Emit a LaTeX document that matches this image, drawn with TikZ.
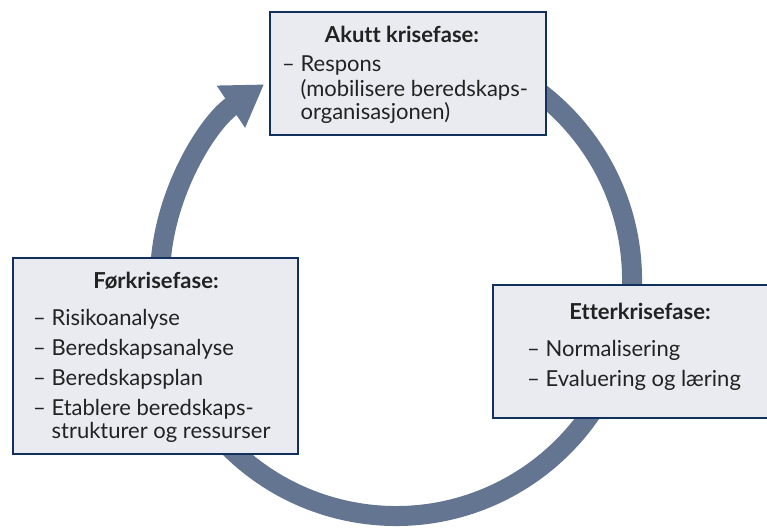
\documentclass[tikz,border=0pt]{standalone}
\usepackage{fontspec}
\setmainfont{Lato}[Ligatures=NoCommon]
\usetikzlibrary{arrows.meta, positioning, calc}
\definecolor{ring1}{RGB}{99,117,145}
\definecolor{boxfill1}{RGB}{233,235,240}
\definecolor{navy1}{RGB}{18,48,92}
\definecolor{text1}{RGB}{34,34,34}
\tikzset{
  phase/.style={draw=navy1, fill=boxfill1, line width=2pt, inner sep=0pt},
  phasetitle/.style={font=\fontsize{22}{23}\selectfont\bfseries, text=text1, inner sep=0pt, anchor=base},
  phaseitems/.style={font=\fontsize{22}{23}\selectfont, text=text1, align=left, inner sep=0pt, anchor=north west},
  cyclearrow/.style={draw=ring1, line width=20pt, -{Triangle[length=40pt, width=48pt]}},
}
\begin{document}
\begin{tikzpicture}[x=1pt, y=1pt]
  \useasboundingbox (0,0) rectangle (767,527);
  % ring
  \coordinate (ctr) at (396,247);
  \coordinate (ringstart) at ($(ctr)+(80:236pt)$);
  \draw[cyclearrow] (ringstart) arc[start angle=80, end angle=-236, radius=236pt];

  % boxes
  \node[phase, minimum width=276pt, minimum height=123pt] (acute) at (408,453.5) {};
  \node[phase, minimum width=285pt, minimum height=196pt] (pre) at (155.5,171) {};
  \node[phase, minimum width=294pt, minimum height=133pt] (post) at (640,175.5) {};

  % texts
  \node[phasetitle] (acutetitle) at (402,484) {Akutt krisefase:};
  \node[phaseitems] (acuteitems) at (282,471.5) {– Respons\\[2pt]\hphantom{– }(mobilisere beredskaps-\\\hphantom{– }organisasjonen)};

  \node[phasetitle] (pretitle) at (156,238) {Førkrisefase:};
  \node[phaseitems] (preitems) at (33,217.5) {– Risikoanalyse\\[7pt]– Beredskapsanalyse\\[7pt]– Beredskapsplan\\[7pt]– Etablere beredskaps-\\\hphantom{– }strukturer og ressurser};

  \node[phasetitle] (posttitle) at (640,207) {Etterkrisefase:};
  \node[phaseitems] (postitems) at (527,186.5) {– Normalisering\\[7pt]– Evaluering og læring};
\end{tikzpicture}
\end{document}
